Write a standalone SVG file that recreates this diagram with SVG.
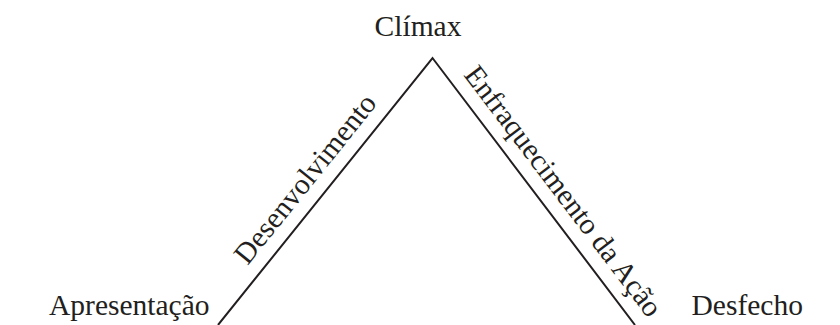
<svg xmlns="http://www.w3.org/2000/svg" width="840" height="325" viewBox="0 0 840 325">
<style>
text{font-family:"Liberation Serif","Times New Roman",serif;font-size:29.5px;fill:#231f20}
.edge{fill:none;stroke:#231f20;stroke-width:2;stroke-linejoin:miter}
</style>
<rect width="840" height="325" fill="#ffffff"/>
<g id="connectors">
<polyline class="edge" points="218,325 432.5,58 635,325"/>
</g>
<g id="climax"><text x="418" y="36" text-anchor="middle">Clímax</text></g>
<g id="apresentacao"><text x="49" y="315">Apresentação</text></g>
<g id="desfecho"><text x="691.5" y="315">Desfecho</text></g>
<g id="desenvolvimento"><text transform="translate(247.5,265.9) rotate(-51.22)">Desenvolvimento</text></g>
<g id="enfraquecimento"><text transform="translate(463,74.9) rotate(52.8)">Enfraquecimento da Ação</text></g>
</svg>
